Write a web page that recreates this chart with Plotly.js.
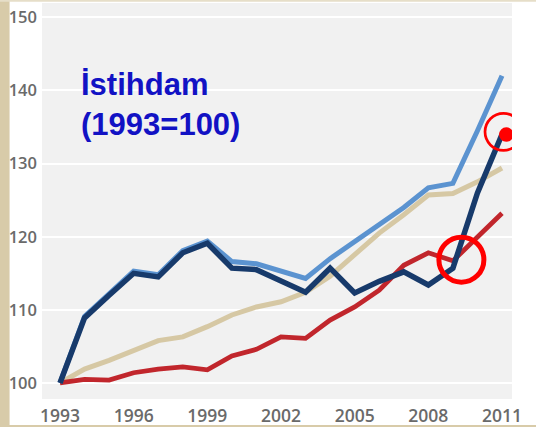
<!DOCTYPE html>
<html>
<head>
<meta charset="utf-8">
<script src="https://cdn.plot.ly/plotly-3.0.1.min.js"></script>
<style>
html, body { margin: 0; padding: 0; background: #ffffff; }
#chart { width: 536px; height: 427px; }
</style>
</head>
<body>
<div id="chart"></div>
<script>
// ---- data ----
const years = [1993, 1994, 1995, 1996, 1997, 1998, 1999, 2000, 2001, 2002,
               2003, 2004, 2005, 2006, 2007, 2008, 2009, 2010, 2011];
const seriesNavy = [100, 108.9, 112.0, 115.0, 114.5, 117.8, 119.1, 115.7, 115.5, 114.0,
                    112.4, 115.7, 112.3, 113.9, 115.2, 113.4, 115.7, 126.0, 134.0];
const seriesLightBlue = [100, 109.1, 112.2, 115.3, 114.8, 118.1, 119.4, 116.6, 116.3, 115.3,
                         114.3, 117.0, 119.3, 121.6, 124.0, 126.7, 127.3, 134.5, 142.0];
const seriesTan = [100, 101.9, 103.1, 104.4, 105.8, 106.3, 107.7, 109.3, 110.4, 111.1,
                   112.4, 114.6, 117.6, 120.5, 123.0, 125.7, 125.9, 127.5, 129.4];
const seriesRed = [100, 100.5, 100.4, 101.4, 101.9, 102.2, 101.8, 103.7, 104.6, 106.3,
                   106.1, 108.6, 110.4, 112.7, 116.1, 117.8, 116.7, 120.0, 123.2];
const xTickVals = [1993, 1996, 1999, 2002, 2005, 2008, 2011];
const yTickVals = [100, 110, 120, 130, 140, 150];
const titleText = "İstihdam<br>(1993=100)";
const highlightYear = 2009;

// ---- figure ----
const traces = [
  {x: years, y: seriesTan, name: "Seri 3", mode: "lines",
   line: {color: "#d6c8a4", width: 5}},
  {x: years, y: seriesRed, name: "Seri 4", mode: "lines",
   line: {color: "#c1262c", width: 4.8}},
  {x: years, y: seriesLightBlue, name: "Seri 2", mode: "lines",
   line: {color: "#5b93d0", width: 5}},
  {x: years, y: seriesNavy, name: "Seri 1", mode: "lines",
   line: {color: "#173a6b", width: 5.5}}
];

const hiIdx = years.indexOf(highlightYear);
const lastIdx = years.length - 1;

const layout = {
  width: 536, height: 427,
  margin: {l: 42, r: 24, t: 3, b: 28, pad: 0},
  paper_bgcolor: "#ffffff",
  plot_bgcolor: "#f1f1f1",
  showlegend: false,
  font: {family: "Open Sans, sans-serif", color: "#6a6a6a"},
  xaxis: {
    range: [1992.267, 2011.407],
    tickvals: xTickVals,
    ticktext: xTickVals.map(String),
    showgrid: false, zeroline: false, showline: false, ticks: "",
    tickfont: {size: 17.5, color: "#6a6a6a", family: "Open Sans, sans-serif", weight: 600},
    ticklabelstandoff: 4
  },
  yaxis: {
    range: [97.81, 151.96],
    tickvals: yTickVals,
    ticktext: yTickVals.map(String),
    showgrid: true, gridcolor: "#ffffff", gridwidth: 2,
    zeroline: false, showline: false, ticks: "",
    tickfont: {size: 16.5, color: "#6a6a6a", family: "Open Sans, sans-serif", weight: 600},
    ticklabelstandoff: 4
  },
  shapes: [
    // left beige strip
    {type: "rect", xref: "paper", yref: "paper", layer: "below",
     x0: -0.0894, x1: -0.0690, y0: -0.0707, y1: 1.0076,
     fillcolor: "#d8cba9", line: {width: 0}},
    // top thin beige line
    {type: "rect", xref: "paper", yref: "paper", layer: "below",
     x0: -0.0894, x1: 1.0511, y0: 1.0030, y1: 1.0076,
     fillcolor: "#e6dec8", line: {width: 0}},
    // bottom beige line
    {type: "rect", xref: "paper", yref: "paper", layer: "below",
     x0: -0.0894, x1: 1.0511, y0: -0.0707, y1: -0.0655,
     fillcolor: "#d8cba9", line: {width: 0}},
    // red circle around the 2009 point
    {type: "circle", xref: "x", yref: "y",
     xsizemode: "pixel", ysizemode: "pixel",
     xanchor: years[hiIdx], yanchor: seriesNavy[hiIdx],
     x0: -14, x1: 31, y0: -14, y1: 31,
     line: {color: "#ff0000", width: 5}},
    // thin red circle around the last point
    {type: "circle", xref: "x", yref: "y",
     xsizemode: "pixel", ysizemode: "pixel",
     xanchor: years[lastIdx], yanchor: seriesNavy[lastIdx],
     x0: -17, x1: 20, y0: -16, y1: 21,
     line: {color: "#ff0000", width: 2.7}},
    // red dot at the last point
    {type: "circle", xref: "x", yref: "y",
     xsizemode: "pixel", ysizemode: "pixel",
     xanchor: years[lastIdx], yanchor: seriesNavy[lastIdx],
     x0: -3, x1: 11.5, y0: -7.5, y1: 7,
     fillcolor: "#ff0000", line: {color: "#ff0000", width: 0}}
  ],
  annotations: [
    {text: titleText, xref: "paper", yref: "paper",
     x: 0.078, y: 0.743, xanchor: "left", yanchor: "middle",
     align: "left", showarrow: false,
     font: {family: "Liberation Sans, Arial, sans-serif", size: 31, color: "#1212c4", weight: "bold"}}
  ]
};

Plotly.newPlot("chart", traces, layout, {displayModeBar: false, staticPlot: true});
</script>
</body>
</html>
